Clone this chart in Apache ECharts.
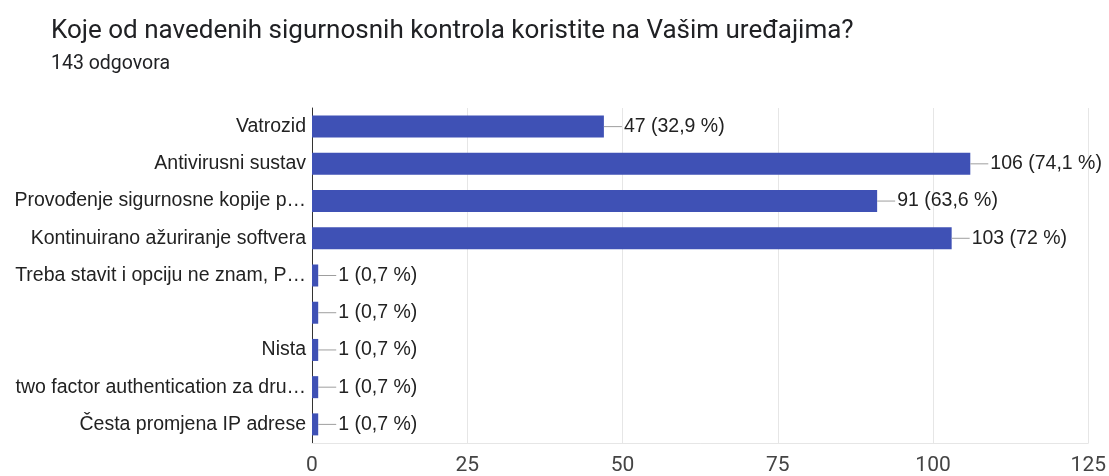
<!DOCTYPE html>
<html>
<head>
<meta charset="utf-8">
<script src="https://cdn.jsdelivr.net/npm/echarts@6/dist/echarts.min.js"></script>
<style>
  html, body { margin: 0; padding: 0; background: #fff; }
  #main { width: 1109px; height: 476px; }
</style>
</head>
<body>
<div id="main"></div>
<script>
var categories = [
  "Vatrozid",
  "Antivirusni sustav",
  "Provođenje sigurnosne kopije p…",
  "Kontinuirano ažuriranje softvera",
  "Treba stavit i opciju ne znam, P…",
  "",
  "Nista",
  "two factor authentication za dru…",
  "Česta promjena IP adrese"
];
var counts = [47, 106, 91, 103, 1, 1, 1, 1, 1];
var percents = ["32,9", "74,1", "63,6", "72", "0,7", "0,7", "0,7", "0,7", "0,7"];
var xTicks = [0, 25, 50, 75, 100, 125];

var myEchart = echarts.init(document.getElementById("main"));
var option = {
  animation: false,
  textStyle: { fontFamily: "Roboto" },
  title: {
    text: "Koje od navedenih sigurnosnih kontrola koristite na Vašim uređajima?",
    subtext: "143 odgovora",
    left: 46,
    top: 13,
    itemGap: 10,
    textStyle: { fontFamily: "Roboto", fontSize: 26, fontWeight: "normal", color: "#202124" },
    subtextStyle: { fontFamily: "Roboto", fontSize: 19.5, color: "#202124" }
  },
  grid: {
    left: 312,
    right: 17,
    top: 108,
    bottom: 33
  },
  xAxis: {
    type: "value",
    min: xTicks[0],
    max: xTicks[xTicks.length - 1],
    interval: 25,
    axisLine: { show: true, lineStyle: { color: "#e6e6e6" } },
    axisTick: { show: false },
    splitLine: { lineStyle: { color: "#e6e6e6" } },
    axisLabel: { fontSize: 21, color: "#444", margin: 12, fontFamily: "Roboto" }
  },
  yAxis: {
    type: "category",
    inverse: true,
    data: categories,
    axisLine: { show: true, lineStyle: { color: "#333", width: 1 } },
    axisTick: { show: false },
    axisLabel: { fontSize: 19.5, color: "#222", margin: 6, fontFamily: "Liberation Sans, Arial" }
  },
  series: [
    {
      type: "bar",
      data: counts,
      barWidth: 22,
      itemStyle: { color: "#3f51b5" },
      label: {
        show: true,
        position: "right",
        distance: 0,
        formatter: function (p) {
          return "{l|}{v|" + counts[p.dataIndex] + " (" + percents[p.dataIndex] + " %)}";
        },
        rich: {
          l: { width: 18, height: 1, backgroundColor: "#9e9e9e" },
          v: { fontSize: 19.5, color: "#222", fontFamily: "Liberation Sans, Arial", padding: [0, 0, 0, 2] }
        }
      }
    }
  ]
};
option && myEchart.setOption(option);
</script>
</body>
</html>
